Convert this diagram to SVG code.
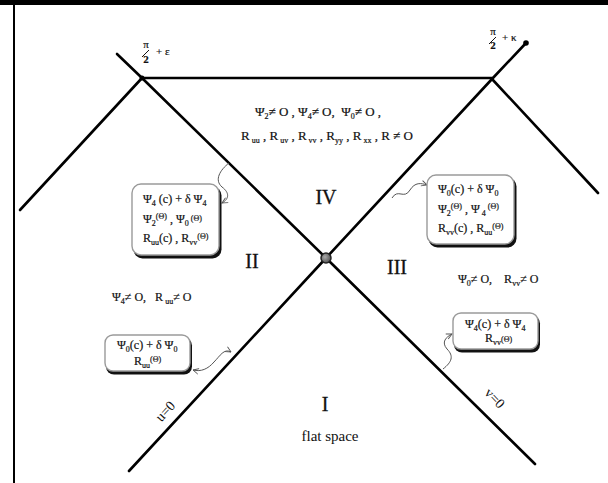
<svg xmlns="http://www.w3.org/2000/svg" width="608" height="483" viewBox="0 0 608 483">
<style>
.ln{stroke:#000;stroke-width:2.6;fill:none;stroke-linecap:round}
.t{font-family:"Liberation Serif","DejaVu Serif",serif;font-size:12px;fill:#111;stroke:#111;stroke-width:0.2;white-space:pre}
.tb{font-size:13px}
.s{font-size:8px}
.num{font-family:"Liberation Serif","DejaVu Serif",serif;font-size:20px;fill:#111;stroke:#111;stroke-width:0.3;text-anchor:middle}
.lbl{font-family:"Liberation Serif","DejaVu Serif",serif;font-size:14px;fill:#111;text-anchor:middle;font-variant-ligatures:none}
.sq{stroke:#555;stroke-width:1;fill:none}
.bx{fill:#fff;stroke:#9a9a9a;stroke-width:1.4}
.sh{fill:#111}
.m{text-anchor:middle}
</style>
<defs>
<marker id="ah" viewBox="0 0 10 10" refX="9" refY="5" markerWidth="7" markerHeight="7" orient="auto-start-reverse" markerUnits="userSpaceOnUse">
<path d="M1,1 L9,5 L1,9" fill="none" stroke="#555" stroke-width="1.3"/>
</marker>
<radialGradient id="cg" cx="0.4" cy="0.4" r="0.6">
<stop offset="0" stop-color="#aaa"/><stop offset="1" stop-color="#555"/>
</radialGradient>
</defs>
<rect x="0" y="0" width="608" height="483" fill="#fff"/>
<rect x="0" y="0" width="608" height="5" fill="#000"/>
<rect x="13" y="0" width="2" height="483" fill="#000"/>

<g id="connectors">
<line class="ln" x1="117" y1="54" x2="142" y2="78"/>
<line class="ln" x1="142" y1="78" x2="326" y2="258"/>
<line class="ln" x1="326" y1="258" x2="535" y2="464"/>
<line class="ln" x1="142" y1="78" x2="492" y2="78"/>
<line class="ln" x1="142" y1="78" x2="20" y2="210"/>
<line class="ln" x1="526" y1="43" x2="492" y2="79"/>
<line class="ln" x1="492" y1="79" x2="326" y2="258"/>
<line class="ln" x1="326" y1="258" x2="129" y2="471"/>
<line class="ln" x1="492" y1="79" x2="598" y2="193"/>
<circle cx="526" cy="43" r="2.8" fill="#000"/>
<circle cx="142" cy="78" r="2.5" fill="#000"/>
<path class="sq" d="M229,163 C220,170 214,180 222,187 C230,193 229,199 222,203" marker-end="url(#ah)"/>
<path class="sq" d="M392,198 C398,188 404,200 410,190 C415,182 421,183 427,185" marker-end="url(#ah)"/>
<path class="sq" d="M231,352 C224,348 220,356 214,362 C208,369 201,372 193,370" marker-start="url(#ah)" marker-end="url(#ah)"/>
<path class="sq" d="M443,369 C452,362 454,356 447,349 C441,342 446,337 452,334" marker-end="url(#ah)"/>
</g>

<g id="center">
<circle cx="326" cy="258" r="5" fill="url(#cg)" stroke="#222" stroke-width="1.5"/>
</g>

<g id="label-eps">
<text class="t" x="146" y="48" text-anchor="middle" style="font-size:11px">π</text>
<line x1="142" y1="57" x2="149" y2="50" stroke="#111" stroke-width="1"/>
<text class="t" x="146" y="63" text-anchor="middle" style="font-size:11px;font-weight:bold">2</text>
<text class="t" x="156" y="55" style="font-size:11px">+ ε</text>
</g>
<g id="label-kappa">
<text class="t" x="493" y="35" text-anchor="middle" style="font-size:11px">π</text>
<line x1="489" y1="44" x2="496" y2="37" stroke="#111" stroke-width="1"/>
<text class="t" x="493" y="49" text-anchor="middle" style="font-size:11px;font-weight:bold">2</text>
<text class="t" x="502" y="41" style="font-size:11px">+ κ</text>
</g>

<g id="region-IV">
<text class="num" x="326" y="204">IV</text>
<text class="t tb m" x="318" y="116" xml:space="preserve">Ψ<tspan class="s" dy="3">2</tspan><tspan dy="-3">≠ O , Ψ</tspan><tspan class="s" dy="3">4</tspan><tspan dy="-3">≠ O,  Ψ</tspan><tspan class="s" dy="3">0</tspan><tspan dy="-3">≠ O ,</tspan></text>
<text class="t tb m" x="327" y="140" xml:space="preserve">R<tspan class="s" dy="3"> uu</tspan><tspan dy="-3"> , R</tspan><tspan class="s" dy="3"> uv</tspan><tspan dy="-3"> , R</tspan><tspan class="s" dy="3"> vv</tspan><tspan dy="-3"> , R</tspan><tspan class="s" dy="3">yy</tspan><tspan dy="-3"> , R</tspan><tspan class="s" dy="3"> xx</tspan><tspan dy="-3"> , R ≠ O</tspan></text>
</g>

<g id="region-II">
<text class="num" x="252" y="268">II</text>
<text class="t" x="112" y="301" xml:space="preserve">Ψ<tspan class="s" dy="3">4</tspan><tspan dy="-3">≠ O,   R</tspan><tspan class="s" dy="3"> uu</tspan><tspan dy="-3">≠ O</tspan></text>
</g>

<g id="region-III">
<text class="num" x="397" y="274">III</text>
<text class="t" x="458" y="283" xml:space="preserve">Ψ<tspan class="s" dy="3">0</tspan><tspan dy="-3">≠ O,    R</tspan><tspan class="s" dy="3">vv</tspan><tspan dy="-3">≠ O</tspan></text>
</g>

<g id="region-I">
<text class="num" x="325" y="411">I</text>
<text class="lbl" x="330" y="441" style="font-size:15px">flat space</text>
<text class="lbl" transform="translate(165,411) rotate(-47)" x="0" y="5">u=0</text>
<text class="lbl" transform="translate(495,398) rotate(46)" x="0" y="5">v=0</text>
</g>

<g id="box-left">
<rect class="sh" x="133.5" y="186.5" width="88" height="72" rx="9"/>
<rect class="bx" x="132" y="184" width="87" height="71" rx="9"/>
<text class="t" x="143" y="203" xml:space="preserve">Ψ<tspan class="s" dy="3">4</tspan><tspan dy="-3"> (c) + δ Ψ</tspan><tspan class="s" dy="3">4</tspan></text>
<text class="t" x="143" y="223" xml:space="preserve">Ψ<tspan class="s" dy="3">2</tspan><tspan class="s" dy="-7">(Θ)</tspan><tspan dy="4"> , Ψ</tspan><tspan class="s" dy="3">0</tspan><tspan class="s" dy="-5"> (Θ)</tspan></text>
<text class="t" x="143" y="242" xml:space="preserve">R<tspan class="s" dy="3">uu</tspan><tspan dy="-3">(c) , R</tspan><tspan class="s" dy="3">vv</tspan><tspan class="s" dy="-6">(Θ)</tspan></text>
</g>

<g id="box-right">
<rect class="sh" x="428.5" y="177.5" width="88" height="70" rx="9"/>
<rect class="bx" x="427" y="175" width="87" height="69" rx="9"/>
<text class="t" x="438" y="193" xml:space="preserve">Ψ<tspan class="s" dy="3">0</tspan><tspan dy="-3">(c) + δ Ψ</tspan><tspan class="s" dy="3">0</tspan></text>
<text class="t" x="438" y="213" xml:space="preserve">Ψ<tspan class="s" dy="3">2</tspan><tspan class="s" dy="-7">(Θ)</tspan><tspan dy="4"> , Ψ</tspan><tspan class="s" dy="3"> 4</tspan><tspan class="s" dy="-7"> (Θ)</tspan></text>
<text class="t" x="438" y="232" xml:space="preserve">R<tspan class="s" dy="3">vv</tspan><tspan dy="-3">(c) , R</tspan><tspan class="s" dy="3">uu</tspan><tspan class="s" dy="-6">(Θ)</tspan></text>
</g>

<g id="box-lower-left">
<rect class="sh" x="106" y="337.5" width="86" height="37" rx="8"/>
<rect class="bx" x="105" y="335" width="85" height="36" rx="8"/>
<text class="t" x="117" y="349" xml:space="preserve">Ψ<tspan class="s" dy="3">0</tspan><tspan dy="-3">(c) + δ Ψ</tspan><tspan class="s" dy="3">0</tspan></text>
<text class="t" x="134" y="365" xml:space="preserve">R<tspan class="s" dy="3">uu</tspan><tspan class="s" dy="-6">(Θ)</tspan></text>
</g>

<g id="box-lower-right">
<rect class="sh" x="454" y="315.5" width="86" height="37" rx="8"/>
<rect class="bx" x="453" y="313" width="85" height="36" rx="8"/>
<text class="t" x="465" y="328" xml:space="preserve">Ψ<tspan class="s" dy="3">4</tspan><tspan dy="-3">(c) + δ Ψ</tspan><tspan class="s" dy="3">4</tspan></text>
<text class="t" x="485" y="342" xml:space="preserve">R<tspan class="s" dy="3">vv</tspan><tspan class="s" dy="-3">(Θ)</tspan></text>
</g>
</svg>
